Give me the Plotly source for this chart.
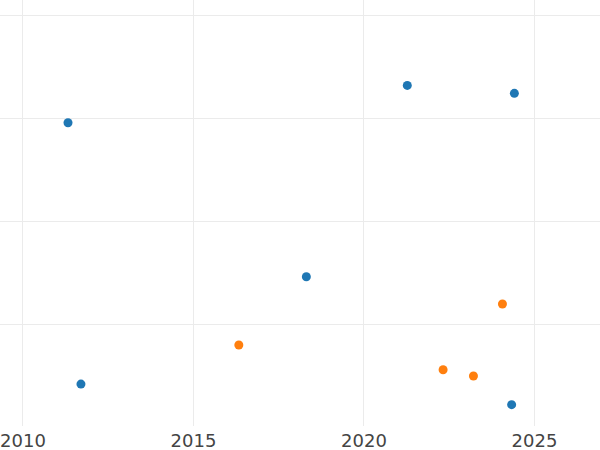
import plotly.graph_objects as go

blue_x = [2011.32, 2011.70, 2018.31, 2021.27, 2024.41, 2024.33]
blue_y = [29.54, 4.17, 14.59, 33.17, 32.40, 2.17]
orange_x = [2016.33, 2022.32, 2023.21, 2024.06]
orange_y = [7.96, 5.56, 4.95, 11.94]

x_ticks = [2010, 2015, 2020, 2025]

fig = go.Figure()
fig.add_trace(go.Scatter(x=blue_x, y=blue_y, mode="markers",
                         marker=dict(color="#1f77b4", size=9), showlegend=False))
fig.add_trace(go.Scatter(x=orange_x, y=orange_y, mode="markers",
                         marker=dict(color="#ff7f0e", size=9), showlegend=False))

fig.update_layout(
    width=600, height=450,
    margin=dict(l=0, r=0, t=0, b=24),
    paper_bgcolor="white", plot_bgcolor="white",
    font=dict(family="DejaVu Sans", size=18, color="#444"),
    showlegend=False,
)
fig.update_xaxes(range=[2009.326, 2026.921], tickvals=x_ticks,
                 ticktext=[str(t) for t in x_ticks], automargin=False,
                 showgrid=True, gridcolor="#ebebeb", gridwidth=1,
                 zeroline=False, showline=False, ticks="", ticklabelstandoff=2)
fig.update_yaxes(range=[0.1, 41.46], dtick=10, tick0=0, automargin=False,
                 showgrid=True, gridcolor="#ebebeb", gridwidth=1,
                 zeroline=False, showline=False, showticklabels=False, ticks="")

fig.write_html("out.html", config={"displayModeBar": False},
               post_script="document.body.style.margin='0';document.body.style.overflow='hidden';")
